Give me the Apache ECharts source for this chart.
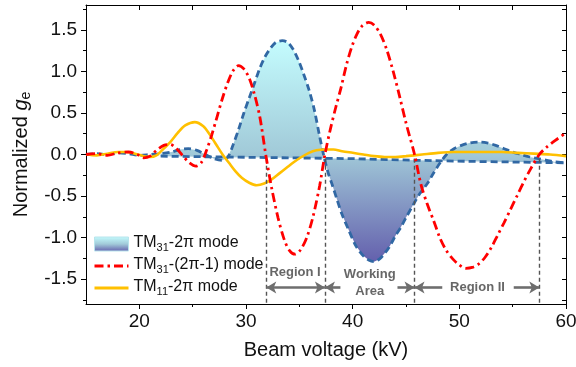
<!DOCTYPE html>
<html>
<head>
<meta charset="utf-8">
<script src="https://cdn.jsdelivr.net/npm/echarts@6/dist/echarts.min.js"></script>
<style>
  html, body { margin: 0; padding: 0; background: #fff; }
  #main { width: 576px; height: 367px; }
</style>
</head>
<body>
<div id="main"></div>
<script>
const FONT = 'Liberation Sans, Arial, sans-serif';

// TM31-2π mode (blue dashed, filled)
const tm31X = [15, 16, 17, 18, 19, 20, 21, 22, 23, 23.8, 24.6, 25.4, 26.2, 27, 27.8, 28.3, 28.8, 29.3, 29.8, 30.3,
  30.8, 31.3, 31.8, 32.3, 32.8, 33.4, 33.9, 34.4, 34.9, 35.4, 35.9, 36.4, 36.9, 37.3, 37.7, 38.1, 38.5, 39.0,
  39.6, 40.3, 41.0, 41.5, 42.0, 42.5, 43.0, 43.5, 44.0, 44.5, 45.0, 45.7, 46.3, 47.0, 47.6, 48.2, 48.8, 49.5,
  50.2, 51.0, 51.8, 52.6, 53.4, 54.2, 55.0, 55.8, 56.6, 57.4, 58.2, 59.0, 60];
const tm31Y = [0.0, 0.01, 0.0, 0.02, 0.01, -0.01, 0.0, 0.01, 0.03, 0.06, 0.07, 0.05, 0.0, -0.05, -0.07, -0.03, 0.12, 0.30, 0.50, 0.68,
  0.86, 1.04, 1.18, 1.28, 1.35, 1.37, 1.35, 1.27, 1.14, 0.97, 0.78, 0.54, 0.22, -0.02, -0.22, -0.37, -0.53, -0.72,
  -0.90, -1.10, -1.22, -1.27, -1.29, -1.26, -1.19, -1.10, -0.98, -0.88, -0.76, -0.60, -0.47, -0.35, -0.22, -0.10, 0.0, 0.07,
  0.11, 0.14, 0.15, 0.14, 0.11, 0.07, 0.03, 0.0, -0.03, -0.05, -0.07, -0.09, -0.10];

// flat dashed line under the TM31-2π fill
const baseX = [22, 28, 34, 40, 46, 52, 60];
const baseY = [-0.02, -0.03, -0.04, -0.05, -0.07, -0.085, -0.10];

// TM31-(2π-1) mode (red dash-dot)
const tm31bX = [15, 16, 17, 18, 19, 19.8, 20.4, 21.0, 21.6, 22.3, 22.9, 23.5, 24.1, 24.7, 25.3, 25.8, 26.3, 26.8, 27.3, 27.8,
  28.3, 28.8, 29.3, 29.8, 30.3, 30.8, 31.3, 31.85, 32.4, 33.0, 33.6, 34.1, 34.6, 35.1, 35.7, 36.3, 36.9, 37.4, 37.9,
  38.4, 38.9, 39.4, 39.9, 40.4, 40.9, 41.5, 42.0, 42.6, 43.2, 43.8, 44.4, 45.0, 45.8, 46.4, 47.0, 47.6, 48.2, 48.8,
  49.4, 50.0, 50.6, 51.2, 51.8, 52.4, 53.0, 53.6, 54.2, 54.8, 55.4, 56.0, 56.7, 57.5, 58.2, 59.0, 60];
const tm31bY = [0.0, 0.01, -0.01, 0.02, 0.03, 0.0, -0.04, -0.02, 0.05, 0.11, 0.12, 0.07, -0.02, -0.10, -0.14, -0.10, 0.05, 0.24, 0.46, 0.68,
  0.87, 1.01, 1.07, 1.03, 0.92, 0.72, 0.45, 0.0, -0.40, -0.76, -1.03, -1.16, -1.20, -1.15, -1.00, -0.74, -0.38, 0.0, 0.30,
  0.56, 0.80, 1.07, 1.29, 1.45, 1.55, 1.59, 1.56, 1.45, 1.26, 1.00, 0.70, 0.38, 0.0, -0.36, -0.60, -0.80, -1.01, -1.16,
  -1.26, -1.33, -1.37, -1.36, -1.32, -1.24, -1.12, -0.97, -0.82, -0.66, -0.50, -0.34, -0.17, 0.0, 0.09, 0.17, 0.26];

// TM11-2π mode (orange solid)
const tm11X = [15, 16, 17, 18, 18.8, 19.6, 20.4, 21.0, 21.6, 22.2, 22.9, 23.6, 24.3, 25.2, 26.0, 26.6, 27.2, 27.8, 28.4, 29.0,
  29.6, 30.3, 31.0, 31.7, 32.4, 33.1, 33.8, 34.5, 35.2, 35.9, 36.6, 37.4, 38.2, 39.0, 40.0, 41.0, 42.0, 43.0, 44.0,
  45.0, 46.5, 48.0, 49.5, 51.0, 52.5, 54.0, 55.5, 57.0, 58.5, 60];
const tm11Y = [0.0, -0.01, 0.01, 0.03, 0.03, 0.01, -0.02, -0.03, -0.01, 0.06, 0.15, 0.26, 0.35, 0.39, 0.34, 0.24, 0.12, 0.0, -0.10, -0.20,
  -0.28, -0.34, -0.37, -0.35, -0.30, -0.23, -0.16, -0.09, -0.03, 0.02, 0.05, 0.06, 0.06, 0.04, 0.02, 0.0, -0.02, -0.03, -0.03,
  -0.02, 0.0, 0.02, 0.03, 0.03, 0.03, 0.03, 0.02, 0.01, 0.0, -0.02];

// axis ticks and labels
const xLabels = [20, 30, 40, 50, 60];
const xMinor = [25, 35, 45, 55];
const xTicks = [20, 25, 30, 35, 40, 45, 50, 55, 60];
const yLabels = [-1.5, -1.0, -0.5, 0.0, 0.5, 1.0, 1.5];
const yMinor = [-1.75, -1.25, -0.75, -0.25, 0.25, 0.75, 1.25, 1.75];
const yTicks = [-1.75, -1.5, -1.25, -1.0, -0.75, -0.5, -0.25, 0, 0.25, 0.5, 0.75, 1.0, 1.25, 1.5, 1.75];

// region boundaries and annotations
const regionEdges = [31.9, 37.4, 45.8, 57.5];
const arrowY = -1.6;
const arrowSegs = [
  [31.9, 37.4, 'arrow', 'arrow'],
  [37.4, 38.85, 'arrow', 'none'],
  [44.2, 45.8, 'none', 'arrow'],
  [45.8, 48.4, 'arrow', 'none'],
  [55.1, 57.5, 'none', 'arrow']
];
const regionTexts = [
  ['Region I', 34.6, -1.42],
  ['Working\nArea', 41.6, -1.55],
  ['Region II', 51.7, -1.6]
];

const zip = (xs, ys) => xs.map((x, i) => [x, ys[i]]);
const tm31 = zip(tm31X, tm31Y);
const base = zip(baseX, baseY);
const fillTop = tm31.filter(p => p[0] >= baseX[0]);

const fillGrad = () => new echarts.graphic.LinearGradient(0, 0, 0, 1, [
  { offset: 0, color: '#c4fcfe' },
  { offset: 0.5, color: '#a2cbd9' },
  { offset: 1, color: '#6460ad' }
]);

const names = {
  'TM31-2π mode': '{a|TM}{s|31}{a|-2π mode}',
  'TM31-(2π-1) mode': '{a|TM}{s|31}{a|-(2π-1) mode}',
  'TM11-2π mode': '{a|TM}{s|11}{a|-2π mode}'
};

const myChart = echarts.init(document.getElementById('main'));

const option = {
  animation: false,
  backgroundColor: '#fff',
  textStyle: { fontFamily: FONT },
  grid: { left: 86, right: 10, top: 5, bottom: 63, outerBoundsMode: 'none' },
  legend: {
    left: 88,
    top: 230,
    orient: 'vertical',
    itemWidth: 34,
    itemHeight: 14,
    itemGap: 4,
    lineStyle: { width: 3 },
    formatter: name => names[name],
    textStyle: {
      rich: {
        a: { fontFamily: FONT, fontSize: 16, color: '#111', lineHeight: 18, verticalAlign: 'top' },
        s: { fontFamily: FONT, fontSize: 11, color: '#111', lineHeight: 10, verticalAlign: 'bottom' }
      }
    },
    data: [
      { name: 'TM31-2π mode', icon: 'rect', itemStyle: { color: fillGrad(), borderColor: '#b8e4ec', borderWidth: 1 } },
      { name: 'TM31-(2π-1) mode', itemStyle: { opacity: 0 } },
      { name: 'TM11-2π mode', itemStyle: { opacity: 0 } }
    ]
  },
  xAxis: [
    {
      type: 'value', min: 15, max: 60, position: 'bottom',
      name: 'Beam voltage (kV)', nameLocation: 'middle', nameGap: 36,
      nameTextStyle: { fontFamily: FONT, fontSize: 20, color: '#111' },
      axisLine: { show: true, onZero: false, lineStyle: { color: '#000', width: 1 } },
      axisTick: { show: true, inside: false, length: 5, customValues: xLabels, lineStyle: { color: '#000' } },
      axisLabel: { customValues: xLabels, fontFamily: FONT, fontSize: 19, color: '#111', margin: 8 },
      splitLine: { show: false }
    },
    {
      type: 'value', min: 15, max: 60, position: 'top',
      axisLine: { show: true, onZero: false, lineStyle: { color: '#000', width: 1 } },
      axisTick: { show: true, inside: true, length: 5, customValues: xTicks, lineStyle: { color: '#000' } },
      axisLabel: { show: false },
      splitLine: { show: false }
    },
    {
      type: 'value', min: 15, max: 60, position: 'bottom',
      axisLine: { show: false, onZero: false },
      axisTick: { show: true, inside: false, length: 3, customValues: xMinor, lineStyle: { color: '#000' } },
      axisLabel: { show: false },
      splitLine: { show: false }
    }
  ],
  yAxis: [
    {
      type: 'value', min: -1.8, max: 1.8, position: 'left',
      name: '{n|Normalized }{g|g}{e|e}', nameLocation: 'middle', nameGap: 53,
      nameTextStyle: {
        rich: {
          n: { fontFamily: FONT, fontSize: 20, color: '#111', lineHeight: 22, verticalAlign: 'top' },
          g: { fontFamily: FONT, fontSize: 20, fontStyle: 'italic', color: '#111', lineHeight: 22, verticalAlign: 'top' },
          e: { fontFamily: FONT, fontSize: 14, color: '#111', lineHeight: 12, verticalAlign: 'bottom' }
        }
      },
      axisLine: { show: true, onZero: false, lineStyle: { color: '#000', width: 1 } },
      axisTick: { show: true, inside: false, length: 5, customValues: yLabels, lineStyle: { color: '#000' } },
      axisLabel: {
        customValues: yLabels, fontFamily: FONT, fontSize: 19, color: '#111', margin: 9,
        formatter: v => v.toFixed(1)
      },
      splitLine: { show: false }
    },
    {
      type: 'value', min: -1.8, max: 1.8, position: 'right',
      axisLine: { show: true, onZero: false, lineStyle: { color: '#000', width: 1 } },
      axisTick: { show: true, inside: true, length: 4, customValues: yTicks, lineStyle: { color: '#000' } },
      axisLabel: { show: false },
      splitLine: { show: false }
    },
    {
      type: 'value', min: -1.8, max: 1.8, position: 'left',
      axisLine: { show: false, onZero: false },
      axisTick: { show: true, inside: false, length: 3, customValues: yMinor, lineStyle: { color: '#000' } },
      axisLabel: { show: false },
      splitLine: { show: false }
    }
  ],
  series: [
    {
      name: 'TM31-2π mode',
      type: 'custom',
      data: [[baseX[0], baseY[0]]],
      z: 1,
      renderItem: (params, api) => {
        const pts = fillTop.map(p => api.coord(p))
          .concat(base.slice().reverse().map(p => api.coord(p)));
        return { type: 'polygon', shape: { points: pts }, style: { fill: fillGrad() } };
      }
    },
    {
      name: 'annotations',
      type: 'line',
      data: [],
      z: 2,
      markLine: {
        silent: true,
        animation: false,
        label: { show: false },
        data: regionEdges.map(x => [
          { coord: [x, -0.05], symbol: 'none', lineStyle: { color: '#555', type: [4, 3], width: 1.4 } },
          { coord: [x, -1.8], symbol: 'none' }
        ]).concat(arrowSegs.map(s => [
          { coord: [s[0], arrowY], symbol: s[2], symbolSize: [9, 10], lineStyle: { color: '#6e6e6e', type: 'solid', width: 2.6 } },
          { coord: [s[1], arrowY], symbol: s[3], symbolSize: [9, 10] }
        ]))
      },
      markPoint: {
        silent: true,
        symbol: 'circle',
        symbolSize: 0,
        label: {
          show: true, position: 'inside', formatter: '{b}',
          fontFamily: FONT, fontSize: 13, fontWeight: 'bold', color: '#676767', lineHeight: 17
        },
        data: regionTexts.map(t => ({ name: t[0], coord: [t[1], t[2]] }))
      }
    },
    {
      name: 'baseline',
      type: 'line',
      data: base,
      symbol: 'none',
      z: 3,
      lineStyle: { color: '#3168a4', width: 2.8, type: [7, 4] }
    },
    {
      name: 'TM31-2π curve',
      type: 'line',
      data: tm31,
      symbol: 'none',
      smooth: 0.3,
      z: 3,
      lineStyle: { color: '#3168a4', width: 2.8, type: [7, 4] }
    },
    {
      name: 'TM11-2π mode',
      type: 'line',
      data: zip(tm11X, tm11Y),
      symbol: 'none',
      smooth: 0.3,
      z: 4,
      color: '#ffc000',
      lineStyle: { color: '#ffc000', width: 2.6 }
    },
    {
      name: 'TM31-(2π-1) mode',
      type: 'line',
      data: zip(tm31bX, tm31bY),
      symbol: 'none',
      smooth: 0.3,
      z: 5,
      color: '#ff0000',
      lineStyle: { color: '#ff0000', width: 2.8, type: [9, 4, 2.5, 4] }
    }
  ]
};

myChart.setOption(option);
</script>
</body>
</html>
